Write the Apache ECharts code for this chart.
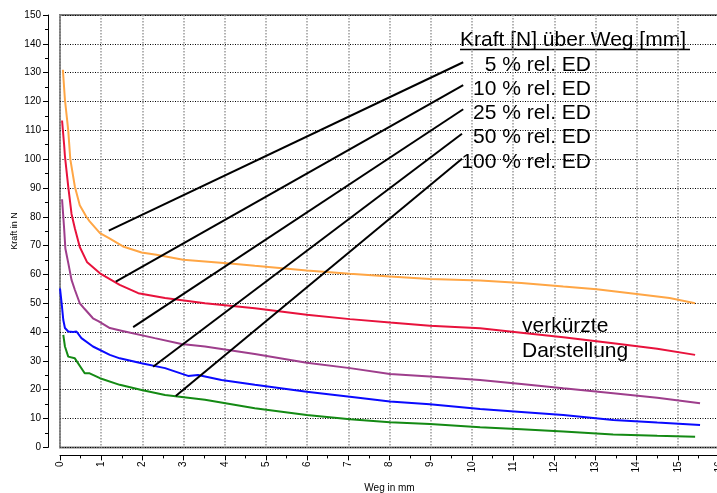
<!DOCTYPE html>
<html>
<head>
<meta charset="utf-8">
<script src="https://cdn.jsdelivr.net/npm/echarts@6/dist/echarts.min.js"></script>
<style>
html,body{margin:0;padding:0;background:#fff;}
#chart{width:717px;height:493px;}
</style>
</head>
<body>
<div id="chart"></div>
<script>
// ---- data (Weg in mm, Kraft in N) ----
const seriesNames = ['5 % rel. ED', '10 % rel. ED', '25 % rel. ED', '50 % rel. ED', '100 % rel. ED'];
const seriesColors = ['#FFA645', '#E8123C', '#9E3E8C', '#0A0AFF', '#148A14'];

const ed5 = [[0.07,131],[0.12,120.6],[0.2,110],[0.25,100],[0.36,90.5],[0.48,84],[0.64,80],[0.72,78.4],[0.97,74.3],[1.19,72.6],[1.53,69.7],[1.98,67.6],[2.34,66.8],[2.99,65.1],[3.52,64.5],[4.2,63.7],[4.73,63.0],[5.99,61.4],[7.04,60.2],[8.01,59.3],[8.98,58.4],[10.2,57.9],[11.2,57.0],[12.22,55.8],[13.03,54.9],[14.0,53.2],[14.8,51.8],[15.42,50.0]];
const ed10 = [[0.05,113.4],[0.1,105],[0.12,101],[0.2,90.5],[0.28,81],[0.36,76],[0.48,69.5],[0.66,64.2],[0.97,60.4],[1.45,56.4],[1.9,53.5],[2.55,51.8],[3.52,50.0],[4.73,48.3],[5.99,46.0],[7.04,44.5],[8.01,43.3],[8.98,42.2],[10.2,41.3],[11.2,39.8],[12.22,38.2],[13.43,36.1],[14.5,34.2],[15.42,32.1]];
const ed25 = [[0.05,86.1],[0.1,76],[0.13,69],[0.2,64],[0.28,58.1],[0.36,54.7],[0.48,50],[0.6,48],[0.8,44.8],[0.93,43.8],[1.21,41.4],[1.49,40.5],[2.3,37.9],[2.95,35.9],[3.52,35.0],[4.73,32.4],[5.99,29.4],[7.04,27.5],[8.01,25.5],[8.98,24.6],[10.2,23.4],[11.2,22.0],[12.22,20.5],[13.43,18.8],[14.5,17.2],[15.54,15.3]];
const ed50 = [[0.0,55.2],[0.04,50.0],[0.08,44.2],[0.12,41.4],[0.2,40.2],[0.32,40.0],[0.4,40.2],[0.52,37.9],[0.8,35.0],[1.21,32.1],[1.45,30.9],[1.98,29.2],[2.55,27.5],[3.11,24.8],[3.35,25.1],[3.92,23.4],[4.73,21.7],[5.99,19.3],[7.04,17.6],[8.01,15.9],[8.98,15.0],[10.2,13.3],[11.2,12.3],[12.22,11.25],[13.43,9.5],[14.5,8.6],[15.54,7.8]];
const ed100 = [[0.08,39.0],[0.12,35],[0.2,31.5],[0.36,30.9],[0.6,25.7],[0.72,25.7],[0.97,24.0],[1.45,21.7],[1.98,19.9],[2.55,18.2],[3.52,16.5],[4.73,13.6],[5.99,11.25],[7.04,9.75],[8.01,8.7],[8.98,8.1],[10.2,7.0],[11.2,6.3],[12.22,5.5],[13.43,4.5],[14.5,4.0],[15.42,3.7]];
const seriesData = [ed5, ed10, ed25, ed50, ed100];

// annotation pointer lines: [start, end] in data units
const pointerLines = [
  [[1.185,75.2],[9.79,133.6]],
  [[1.355,57.5],[9.79,125.7]],
  [[1.776,41.7],[9.79,117.3]],
  [[2.26,28.0],[9.76,108.8]],
  [[2.81,17.8],[9.76,100.1]]
];

const legendTitle = 'Kraft [N] über Weg [mm]';
const noteLines = ['verkürzte', 'Darstellung'];
const xName = 'Weg in mm';
const yName = 'Kraft in N';

// ---- chart ----
const chart = echarts.init(document.getElementById('chart'), null, {renderer: 'canvas'});
const FONT = 'Liberation Sans, Arial, sans-serif';

const series = [];
seriesData.forEach((d, i) => {
  series.push({
    name: seriesNames[i], type: 'line', data: d, showSymbol: false, symbol: 'none',
    lineStyle: {color: seriesColors[i], width: 2}, itemStyle: {color: seriesColors[i]},
    silent: true, z: 3
  });
});
pointerLines.forEach((p, i) => {
  series.push({
    name: 'ptr' + i, type: 'line', data: p, showSymbol: false, symbol: 'none',
    lineStyle: {color: '#000', width: 2}, silent: true, z: 4
  });
});

const graphics = [
  {type: 'text', x: 460, y: 40, style: {text: legendTitle, font: '21px ' + FONT, fill: '#000', textAlign: 'left', textVerticalAlign: 'middle'}},
  {type: 'line', shape: {x1: 460, y1: 49.5, x2: 690, y2: 49.5}, style: {stroke: '#000', lineWidth: 1.5}},
  {type: 'text', x: 15, y: 231, rotation: Math.PI / 2, style: {text: yName, font: '9px ' + FONT, fill: '#000', textAlign: 'center', textVerticalAlign: 'middle'}}
];
seriesNames.forEach((n, i) => {
  graphics.push({type: 'text', x: 591, y: 65 + i * 24.2,
    style: {text: n, font: '21px ' + FONT, fill: '#000', textAlign: 'right', textVerticalAlign: 'middle'}});
});
noteLines.forEach((t, i) => {
  graphics.push({type: 'text', x: 522, y: 326 + i * 25,
    style: {text: t, font: '21px ' + FONT, fill: '#000', textAlign: 'left', textVerticalAlign: 'middle'}});
});

chart.setOption({
  animation: false,
  backgroundColor: '#fff',
  grid: {left: 60, top: 15, right: -2, bottom: 45.6, show: true, borderColor: '#7a7a7a', borderWidth: 2, backgroundColor: 'transparent', outerBoundsMode: 'none', containLabel: false},
  xAxis: {
    type: 'value', min: 0, max: 16, interval: 1, offset: 8,
    name: xName, nameLocation: 'middle', nameGap: 28,
    nameTextStyle: {fontFamily: FONT, fontSize: 10, color: '#000'},
    axisLine: {show: true, onZero: false, lineStyle: {color: '#000', width: 1}},
    axisTick: {show: true, length: 5, lineStyle: {color: '#000'}},
    minorTick: {show: true, splitNumber: 2, length: 3, lineStyle: {color: '#000'}},
    axisLabel: {rotate: 90, fontFamily: FONT, fontSize: 10, color: '#000', margin: 6},
    splitLine: {show: true, lineStyle: {color: '#9a9a9a', width: 1.5, type: [1.5, 1.5]}}
  },
  yAxis: {
    type: 'value', min: 0, max: 150, interval: 10, offset: 12,
    axisLine: {show: true, onZero: false, lineStyle: {color: '#000', width: 1}},
    axisTick: {show: true, length: 5, lineStyle: {color: '#000'}},
    minorTick: {show: true, splitNumber: 2, length: 3, lineStyle: {color: '#000'}},
    axisLabel: {fontFamily: FONT, fontSize: 10, color: '#000', margin: 7},
    splitLine: {show: true, lineStyle: {color: '#000', width: 1, type: [1, 1.5]}}
  },
  series: series,
  graphic: graphics
});
</script>
</body>
</html>
